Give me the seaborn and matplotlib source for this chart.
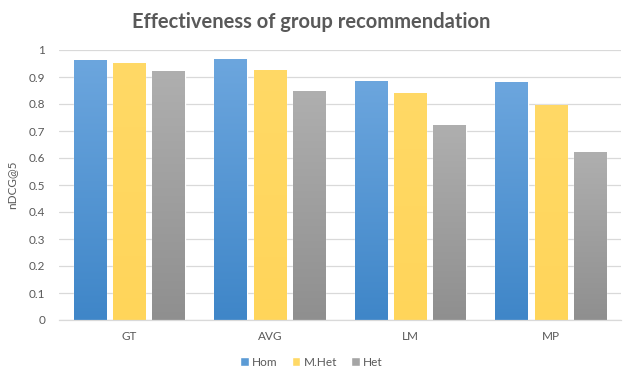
import matplotlib
matplotlib.use("Agg")
import matplotlib.pyplot as plt
import seaborn as sns
import pandas as pd
import numpy as np

categories = ["GT", "AVG", "LM", "MP"]
series = ["Hom", "M.Het", "Het"]
hom = [0.963, 0.966, 0.886, 0.880]
mhet = [0.951, 0.925, 0.841, 0.797]
het = [0.922, 0.849, 0.723, 0.622]
yticks = [0, 0.1, 0.2, 0.3, 0.4, 0.5, 0.6, 0.7, 0.8, 0.9, 1]
ytick_labels = ["0", "0.1", "0.2", "0.3", "0.4", "0.5", "0.6", "0.7", "0.8", "0.9", "1"]

rows = []
for s, vals in zip(series, [hom, mhet, het]):
    for c, v in zip(categories, vals):
        rows.append({"cat": c, "series": s, "val": v})
df = pd.DataFrame(rows)

sns.set_theme(style="white")
plt.rcParams['font.family'] = ['Lato', 'DejaVu Sans']

colors = {"Hom": "#5B9BD5", "M.Het": "#FFD966", "Het": "#A5A5A5"}
fig = plt.figure(figsize=(6.23, 3.73), dpi=100)
ax = fig.add_axes([59/623, (373-320)/373, (621-59)/623, 270/373])
sns.barplot(data=df, x="cat", y="val", hue="series", order=categories,
            hue_order=series, palette=colors, width=0.837, gap=0.18,
            saturation=1, ax=ax, legend=True)

# vertical gradient on bars
grad = np.linspace(0, 1, 256).reshape(-1, 1)
from matplotlib.colors import LinearSegmentedColormap
tops = {"Hom": "#6CA6DE", "M.Het": "#FFD966", "Het": "#AFAFAF"}
bots = {"Hom": "#3F86C8", "M.Het": "#FFD55A", "Het": "#8F8F8F"}
for cont, s in zip(ax.containers, series):
    cmap = LinearSegmentedColormap.from_list(s, [bots[s], tops[s]])
    for p in cont.patches:
        x0, y0 = p.get_x(), p.get_y()
        w, h = p.get_width(), p.get_height()
        im = ax.imshow(grad, extent=[x0, x0 + w, y0, y0 + h], origin="lower",
                       aspect="auto", cmap=cmap, zorder=p.get_zorder() + 0.1)
        im.set_clip_path(p)

ax.set_xlim(-0.5, 3.5)
ax.set_ylim(0, 1)
ax.set_yticks(yticks)
ax.set_yticklabels(ytick_labels)
ax.yaxis.grid(True, color="#D9D9D9", linewidth=0.9)
ax.set_axisbelow(True)
for sp in ["top", "right", "left"]:
    ax.spines[sp].set_visible(False)
ax.spines["bottom"].set_color("#D9D9D9")
ax.spines["bottom"].set_linewidth(0.9)
ax.tick_params(axis="both", length=0, colors="#595959", labelsize=8.5)
ax.tick_params(axis="x", pad=8)
ax.tick_params(axis="y", pad=10)
ax.set_xlabel("")
ax.set_ylabel("nDCG@5", color="#595959", fontsize=8.5, labelpad=8)

fig.text(0.5, 1 - 21.5/373, "Effectiveness of group recommendation",
         ha="center", va="center", fontsize=14.5, fontweight="bold", color="#595959")

handles, labels = ax.get_legend_handles_labels()
ax.legend_.remove()
fig.legend(handles, labels, loc="center", bbox_to_anchor=(0.5, 11/373),
           ncol=3, frameon=False, fontsize=8.5, handlelength=0.7, handleheight=0.7,
           handletextpad=0.3, columnspacing=1.2, labelcolor="#595959")

fig.savefig("out.png", dpi=100)
